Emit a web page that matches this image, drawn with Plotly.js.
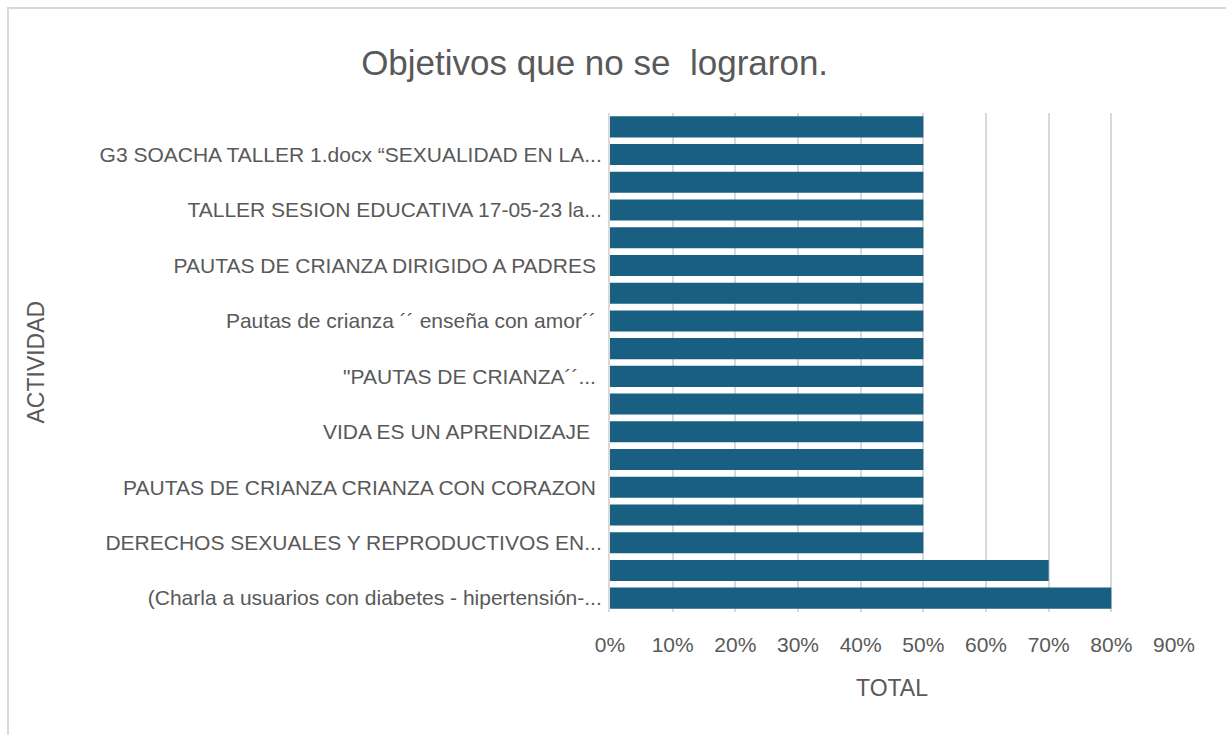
<!DOCTYPE html>
<html>
<head>
<meta charset="utf-8">
<script src="https://cdn.plot.ly/plotly-3.0.1.min.js"></script>
<style>
  html, body { margin: 0; padding: 0; background: #ffffff; }
  #wrap { position: relative; width: 1226px; height: 735px; overflow: hidden; }
  #frame { position: absolute; left: 7px; top: 7px; width: 1230px; height: 740px;
           border-left: 2px solid #d9d9d9; border-top: 2px solid #d9d9d9; pointer-events: none; z-index: 5; }
  #chart { position: absolute; left: 0; top: 0; width: 1226px; height: 735px; }
</style>
</head>
<body>
<div id="wrap">
  <div id="chart"></div>
  <div id="frame"></div>
</div>
<script>
// Categories from bottom to top; empty strings = labels Excel skipped (not shown)
const categories = [
  "(Charla a usuarios con diabetes - hipertensión-...",
  "",
  "DERECHOS SEXUALES Y REPRODUCTIVOS EN...",
  "",
  "PAUTAS DE CRIANZA CRIANZA CON CORAZON\u00a0",
  "",
  "VIDA ES UN APRENDIZAJE\u00a0\u00a0",
  "",
  "\"PAUTAS DE CRIANZA´´...\u00a0",
  "",
  "Pautas de crianza ´´ enseña con amor´´\u00a0",
  "",
  "PAUTAS DE CRIANZA DIRIGIDO A PADRES\u00a0",
  "",
  "TALLER SESION EDUCATIVA 17-05-23 la...",
  "",
  "G3 SOACHA TALLER 1.docx “SEXUALIDAD EN LA...",
  ""
];
const values = [0.8, 0.7, 0.5, 0.5, 0.5, 0.5, 0.5, 0.5, 0.5, 0.5, 0.5, 0.5, 0.5, 0.5, 0.5, 0.5, 0.5, 0.5];
const xTickVals = [0, 0.1, 0.2, 0.3, 0.4, 0.5, 0.6, 0.7, 0.8, 0.9];
const xTickText = ["0%", "10%", "20%", "30%", "40%", "50%", "60%", "70%", "80%", "90%"];
const titleText = "Objetivos que no se  lograron.";
const xTitle = "TOTAL";
const yTitle = "ACTIVIDAD";

const positions = categories.map((c, i) => i);
const shownVals = positions.filter(i => categories[i] !== "");
const shownText = shownVals.map(i => categories[i]);

const FONT = "'Liberation Sans', Arial, sans-serif";
const GRAY = "#595959";

const trace = {
  type: "bar",
  orientation: "h",
  x: values,
  y: positions,
  marker: { color: "#185f82", line: { width: 0 } },
  hoverinfo: "x+y"
};

const layout = {
  width: 1226,
  height: 735,
  paper_bgcolor: "#ffffff",
  plot_bgcolor: "#ffffff",
  margin: { l: 610, r: 52, t: 113, b: 123 },
  bargap: 0.24,
  showlegend: false,
  title: {
    text: titleText,
    font: { family: FONT, size: 35, color: GRAY },
    x: 0.485, xanchor: "center",
    y: 0.915, yanchor: "middle"
  },
  xaxis: {
    range: [0, 0.9],
    tickvals: xTickVals,
    ticktext: xTickText,
    showgrid: true,
    gridcolor: "#d9d9d9",
    gridwidth: 2,
    zeroline: false,
    showline: false,
    ticks: "",
    ticklabelstandoff: 18,
    tickfont: { family: FONT, size: 21, color: GRAY },
    fixedrange: true
  },
  yaxis: {
    range: [-0.5, 17.5],
    tickvals: shownVals,
    ticktext: shownText,
    showgrid: false,
    zeroline: false,
    showline: true,
    linecolor: "#d9d9d9",
    linewidth: 2,
    ticks: "",
    ticklabelstandoff: 2,
    tickfont: { family: FONT, size: 21, color: GRAY },
    fixedrange: true
  },
  annotations: [
    {
      text: yTitle, textangle: -90, showarrow: false,
      xref: "paper", yref: "paper", x: 0, y: 0.5,
      xanchor: "center", yanchor: "middle", xshift: -575,
      font: { family: FONT, size: 23, color: GRAY }
    },
    {
      text: xTitle, showarrow: false,
      xref: "paper", yref: "paper", x: 0.5, y: 0,
      xanchor: "center", yanchor: "middle", yshift: -76,
      font: { family: FONT, size: 23, color: GRAY }
    }
  ]
};

Plotly.newPlot("chart", [trace], layout, { displayModeBar: false, staticPlot: true });
</script>
</body>
</html>
